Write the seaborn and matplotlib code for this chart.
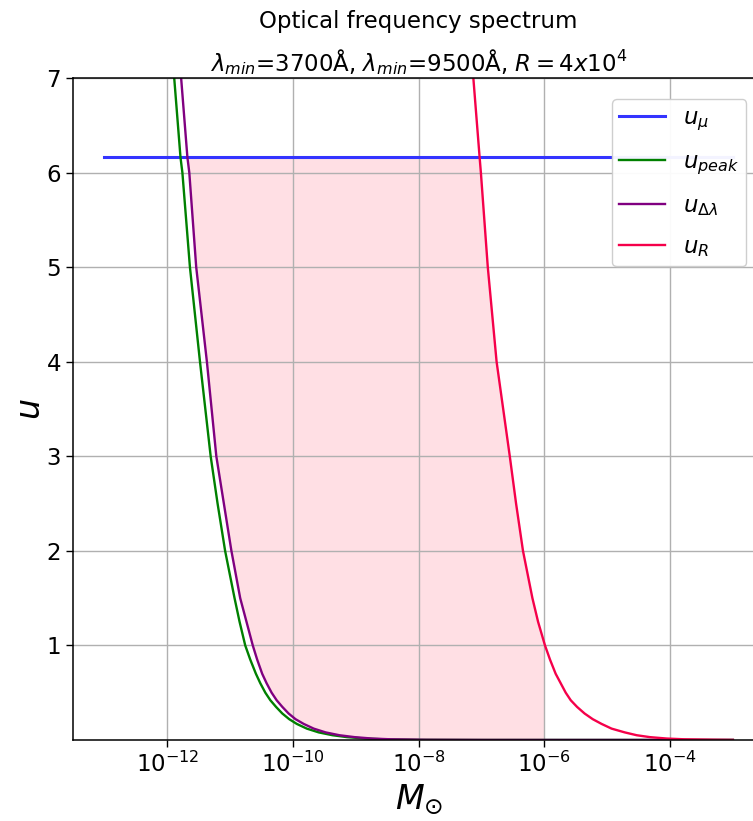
# -*- coding: utf-8 -*-
import numpy as np
import pandas as pd
import matplotlib.pyplot as plt
import seaborn as sns
from matplotlib.ticker import NullLocator

# 数据
u_levels = np.array([9.0, 7.0, 6.16, 6.0, 5.0, 4.0, 3.0, 2.5, 2.0, 1.5, 1.25, 1.0,
                     0.85, 0.7, 0.6, 0.5, 0.42, 0.35, 0.28, 0.22, 0.17, 0.12,
                     0.08, 0.05, 0.03, 0.015, 0.007, 0.002, 0.0003, 0.0])
logm_peak = np.array([-12.12, -11.89, -11.79, -11.76, -11.64, -11.48, -11.31, -11.20, -11.08, -10.93, -10.85, -10.76,
                      -10.68, -10.59, -10.52, -10.44, -10.36, -10.27, -10.17, -10.06, -9.94, -9.78,
                      -9.59, -9.37, -9.14, -8.85, -8.55, -7.99, -7.03, -3.0])
logm_dl = np.array([-12.00, -11.78, -11.68, -11.65, -11.54, -11.37, -11.22, -11.10, -10.98, -10.84, -10.74, -10.64,
                    -10.57, -10.49, -10.42, -10.34, -10.26, -10.17, -10.07, -9.96, -9.83, -9.67,
                    -9.48, -9.26, -9.02, -8.74, -8.44, -7.88, -6.92, -3.0])
logm_R = np.array([-7.34, -7.13, -7.03, -7.01, -6.90, -6.76, -6.55, -6.45, -6.34, -6.19, -6.10, -5.99,
                   -5.91, -5.82, -5.74, -5.66, -5.58, -5.48, -5.36, -5.23, -5.09, -4.93,
                   -4.72, -4.53, -4.32, -4.05, -3.77, -3.29, -3.05, -3.0])
u_mu = 6.16
m_mu = np.array([1e-13, 1e-3])
m_fill_edge = 1e-6

xticks = [1e-12, 1e-10, 1e-8, 1e-6, 1e-4]
yticks = [1, 2, 3, 4, 5, 6, 7]

# 字体尺寸设置
tick_fontsize = 16.5
title_fontsize = 16.5
label_fontsize = 24

fig = plt.figure(figsize=(7.53, 8.21), dpi=100, facecolor="w")
ax = fig.add_axes([0.097, 0.0987, 0.918, 0.8063])

df_mu = pd.DataFrame({"M": m_mu, "u": [u_mu, u_mu]})
df_peak = pd.DataFrame({"M": 10 ** logm_peak, "u": u_levels})
df_dl = pd.DataFrame({"M": 10 ** logm_dl, "u": u_levels})
df_R = pd.DataFrame({"M": 10 ** logm_R, "u": u_levels})

sns.lineplot(data=df_mu, x="M", y="u", color="#3434ff", lw=2.2, label=r"$u_\mu$", ax=ax, errorbar=None)
sns.lineplot(data=df_peak, x="M", y="u", color="green", lw=1.7, label=r"$u_{peak}$", ax=ax, errorbar=None)
sns.lineplot(data=df_dl, x="M", y="u", color="purple", lw=1.7, label=r"$u_{\Delta\lambda}$", ax=ax, errorbar=None)
sns.lineplot(data=df_R, x="M", y="u", color="#f5004a", lw=1.7, label=r"$u_R$", ax=ax, errorbar=None)

# 阴影区域
mask = (u_levels > 0) & (u_levels <= u_mu)
ax.fill_betweenx(u_levels[mask], 10 ** logm_dl[mask],
                 np.minimum(10 ** logm_R[mask], m_fill_edge),
                 color="pink", alpha=0.5, lw=0, zorder=1)

ax.set_xscale("log")
ax.set_xlim(10 ** -13.5, 10 ** -2.5)
ax.set_ylim(0, 7)
ax.set_xticks(xticks)
ax.xaxis.set_minor_locator(NullLocator())
ax.set_yticks(yticks)
ax.tick_params(labelsize=tick_fontsize, length=5, width=1)
for s in ax.spines.values():
    s.set_linewidth(1.1)
ax.grid(True, color="#b0b0b0", lw=1.0)

ax.set_xlabel(r"$M_{\odot}$", fontsize=label_fontsize)
ax.set_ylabel(r"$u$", fontsize=label_fontsize, labelpad=0)
ax.set_title("Optical frequency spectrum\n"
             r"$\lambda_{min}$=3700Å, $\lambda_{min}$=9500Å, $R=4x10^4$",
             fontsize=title_fontsize, pad=5, linespacing=1.6)

ax.legend(loc="upper left", bbox_to_anchor=(0.78, 0.968), borderaxespad=0,
          fontsize=16.5, labelspacing=0.75, handlelength=2.0, borderpad=0.3,
          framealpha=0.95)

fig.savefig("out.png", dpi=100)
